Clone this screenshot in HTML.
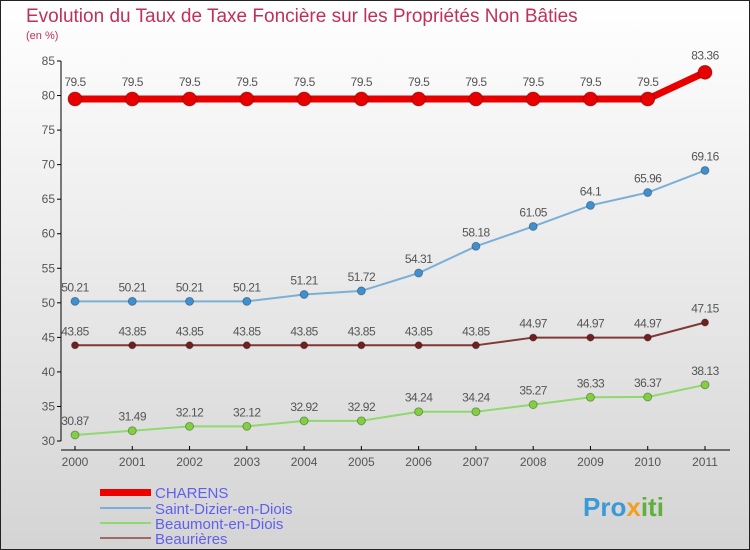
<!DOCTYPE html>
<html><head><meta charset="utf-8"><style>
body{margin:0}
svg{display:block;font-family:"Liberation Sans",sans-serif}
</style></head><body>
<svg id="c" width="750" height="550" viewBox="0 0 750 550">
<defs><linearGradient id="bg" x1="0" y1="0" x2="0" y2="1"><stop offset="0" stop-color="#ffffff"/><stop offset="1" stop-color="#d4d4d4"/></linearGradient></defs>
<rect x="0.5" y="0.5" width="749" height="549" fill="url(#bg)" stroke="#222"/>
<text x="26" y="22" font-size="19" fill="#c0305a">Evolution du Taux de Taxe Foncière sur les Propriétés Non Bâties</text>
<text x="26" y="39" font-size="11" fill="#c0305a">(en %)</text>
<g id="axes"></g><g id="series"></g>
<g>
<rect x="100" y="489" width="51" height="7" fill="#e00"/>
<text x="155" y="498" font-size="15" fill="#6060f0">CHARENS</text>
<rect x="100" y="507" width="51" height="2" fill="#7ab0d8"/>
<text x="155" y="514" font-size="15" fill="#6060f0">Saint-Dizier-en-Diois</text>
<rect x="100" y="522" width="51" height="2" fill="#90d870"/>
<text x="155" y="529" font-size="15" fill="#6060f0">Beaumont-en-Diois</text>
<rect x="100" y="537" width="51" height="2" fill="#a06868"/>
<text x="155" y="544" font-size="15" fill="#6060f0">Beaurières</text>
</g>
<text x="583" y="516" font-size="26" font-weight="bold" fill="#3a9ad8">Pro<tspan fill="#f0a020">x</tspan><tspan fill="#60b040">iti</tspan></text>
</svg>
<script>
const years=[2000,2001,2002,2003,2004,2005,2006,2007,2008,2009,2010,2011];
const yTicks=[30,35,40,45,50,55,60,65,70,75,80,85];
const charens=[79.5,79.5,79.5,79.5,79.5,79.5,79.5,79.5,79.5,79.5,79.5,83.36];
const saintDizier=[50.21,50.21,50.21,50.21,51.21,51.72,54.31,58.18,61.05,64.1,65.96,69.16];
const beaumont=[30.87,31.49,32.12,32.12,32.92,32.92,34.24,34.24,35.27,36.33,36.37,38.13];
const beaurieres=[43.85,43.85,43.85,43.85,43.85,43.85,43.85,43.85,44.97,44.97,44.97,47.15];
const NS='http://www.w3.org/2000/svg';
const x=i=>75+i*(630/11);
const y=v=>441-(v-30)*(380/55);
function mk(t,a,p){const e=document.createElementNS(NS,t);for(const k in a)e.setAttribute(k,a[k]);p.appendChild(e);return e;}
const ax=document.getElementById('axes');
let e=mk('line',{x1:61,y1:61,x2:61,y2:441,stroke:'#000'},ax);


e=mk('line',{x1:61,y1:450,x2:730,y2:450,stroke:'#000'},ax);


yTicks.forEach(v=>{mk('line',{x1:57,y1:y(v),x2:61,y2:y(v),stroke:'#000'},ax);
 const t=mk('text',{x:55,y:y(v)+4,'font-size':12,fill:'#555','text-anchor':'end'},ax);t.textContent=v;
 
 });
years.forEach((yr,i)=>{mk('line',{x1:x(i),y1:446,x2:x(i),y2:450,stroke:'#000'},ax);
 const t=mk('text',{x:x(i),y:466,'font-size':12,fill:'#555','text-anchor':'middle'},ax);t.textContent=yr;
 
 });
const sg=document.getElementById('series');
function series(vals,name,col,dot,w,r,off){
 const g=mk('g',{},sg);
 
 
 mk('polyline',{points:vals.map((v,i)=>x(i)+','+y(v)).join(' '),fill:'none',stroke:col,'stroke-width':w},g);
 vals.forEach((v,i)=>{const c=mk('circle',{cx:x(i),cy:y(v),r:r,fill:dot,stroke:'rgba(0,0,0,0.3)'},g);
  
  
  const t=mk('text',{x:x(i),y:y(v)-off,'font-size':12,fill:'#555','text-anchor':'middle','letter-spacing':'-0.5'},g);t.textContent=v;
  
  });
}
series(beaumont,'beaumont-series','#90d870','#80d040',2,4,10);
series(beaurieres,'beaurieres-series','#803838','#702020',2,3.5,10);
series(saintDizier,'saint-dizier-series','#7ab0d8','#4090d0',2,4,10);
series(charens,'charens-series','#e80000','#e80000',7,7,13);
</script>
</body></html>
